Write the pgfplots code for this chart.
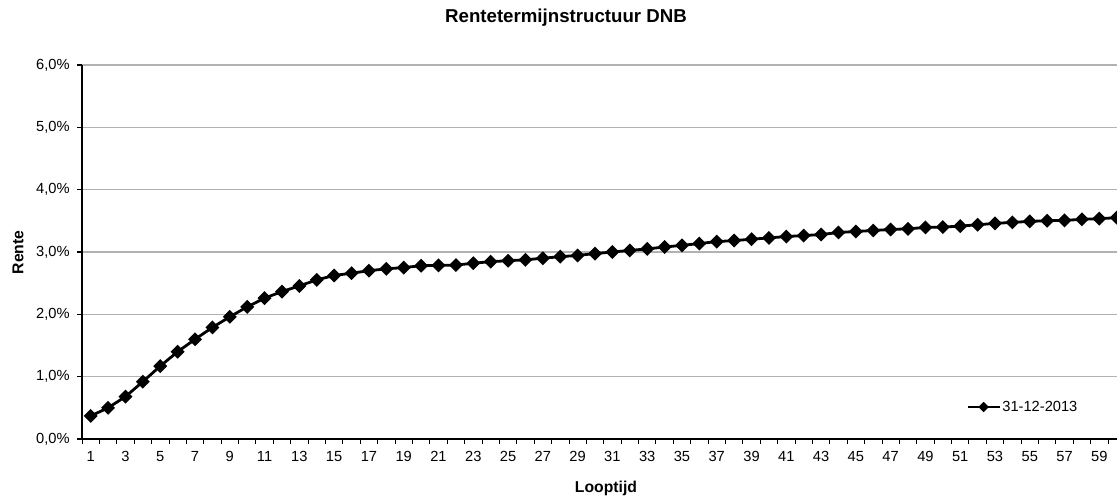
\documentclass[border=0pt]{standalone}
\usepackage{pgfplots}
\pgfplotsset{compat=1.18}
\usepackage{fontspec}
\setmainfont{Liberation Sans}

% 1 px of the reference = 0.75pt
\definecolor{gridgray}{RGB}{178,178,178}

\begin{document}
\begin{tikzpicture}
\begin{axis}[
    scale only axis,
    width=782.55pt, height=280.5pt,
    xmin=0.5, xmax=60.5,
    ymin=0, ymax=6,
    axis x line*=bottom,
    axis y line*=left,
    axis line style={black, line width=1pt},
    tick align=outside,
    major tick length=3.75pt,
    minor tick length=3.5pt,
    xtick={1,3,...,59},
    minor xtick={0.5,1.5,...,60.5},
    major x tick style={draw=none},
    minor x tick style={black, line width=0.6pt},
    ytick={0,1,...,6},
    major y tick style={black, line width=0.8pt},
    ymajorgrids,
    major grid style={gridgray, line width=0.8pt},
    /pgf/number format/assume math mode=true,
    ticklabel style={font=\fontsize{11}{13}\selectfont},
    xticklabel style={yshift=-2pt},
    yticklabel style={xshift=-2pt},
    yticklabel={\pgfmathprintnumber[fixed,fixed zerofill,precision=1,use comma]{\tick}\%},
    clip marker paths=true,
    legend style={draw=none, fill=none, at={(0.8472,0.0856)}, anchor=west,
        inner sep=0pt, font=\fontsize{11}{13}\selectfont,
        nodes={inner sep=1pt}},
    legend image code/.code={
        \draw[#1, mark repeat=2, mark phase=2, every mark/.append style={scale=0.65}]
            plot coordinates {(0pt,0pt) (12pt,0pt) (24pt,0pt)};
    },
]
\addplot[black, line width=2.1pt, mark=square*,
    mark size=2.65pt, mark options={rotate=45, solid, fill=black}]
coordinates {
(1,0.37) (2,0.50) (3,0.68) (4,0.92) (5,1.17) (6,1.40) (7,1.60) (8,1.79)
(9,1.96) (10,2.12) (11,2.26) (12,2.365) (13,2.456) (14,2.553) (15,2.623)
(16,2.66) (17,2.70) (18,2.73) (19,2.75) (20,2.78) (21,2.785) (22,2.79)
(23,2.82) (24,2.845) (25,2.86) (26,2.875) (27,2.90) (28,2.925) (29,2.945)
(30,2.975) (31,3.00) (32,3.025) (33,3.05) (34,3.08) (35,3.107) (36,3.135)
(37,3.167) (38,3.183) (39,3.205) (40,3.226) (41,3.248) (42,3.264) (43,3.28)
(44,3.313) (45,3.329) (46,3.345) (47,3.361) (48,3.372) (49,3.394) (50,3.40)
(51,3.415) (52,3.437) (53,3.459) (54,3.475) (55,3.491) (56,3.502) (57,3.507)
(58,3.524) (59,3.535) (60,3.55)
};
\addlegendentry{31-12-2013}
\end{axis}

% titles, placed in pt relative to the axis' lower left corner
\node[anchor=base, font=\bfseries\fontsize{14}{16}\selectfont]
    at (363pt,312pt) {Rentetermijnstructuur DNB};
\node[anchor=base, font=\bfseries\fontsize{11.8}{14}\selectfont]
    at (393pt,-39.75pt) {Looptijd};
\node[anchor=base, rotate=90, font=\bfseries\fontsize{11.8}{14}\selectfont]
    at (-44pt,140pt) {Rente};

% crop to the reference frame (the plot area runs past its right edge)
\pgfresetboundingbox
\useasboundingbox (-61.5pt,-43.5pt) rectangle (776.25pt,329.25pt);
\end{tikzpicture}
\end{document}
